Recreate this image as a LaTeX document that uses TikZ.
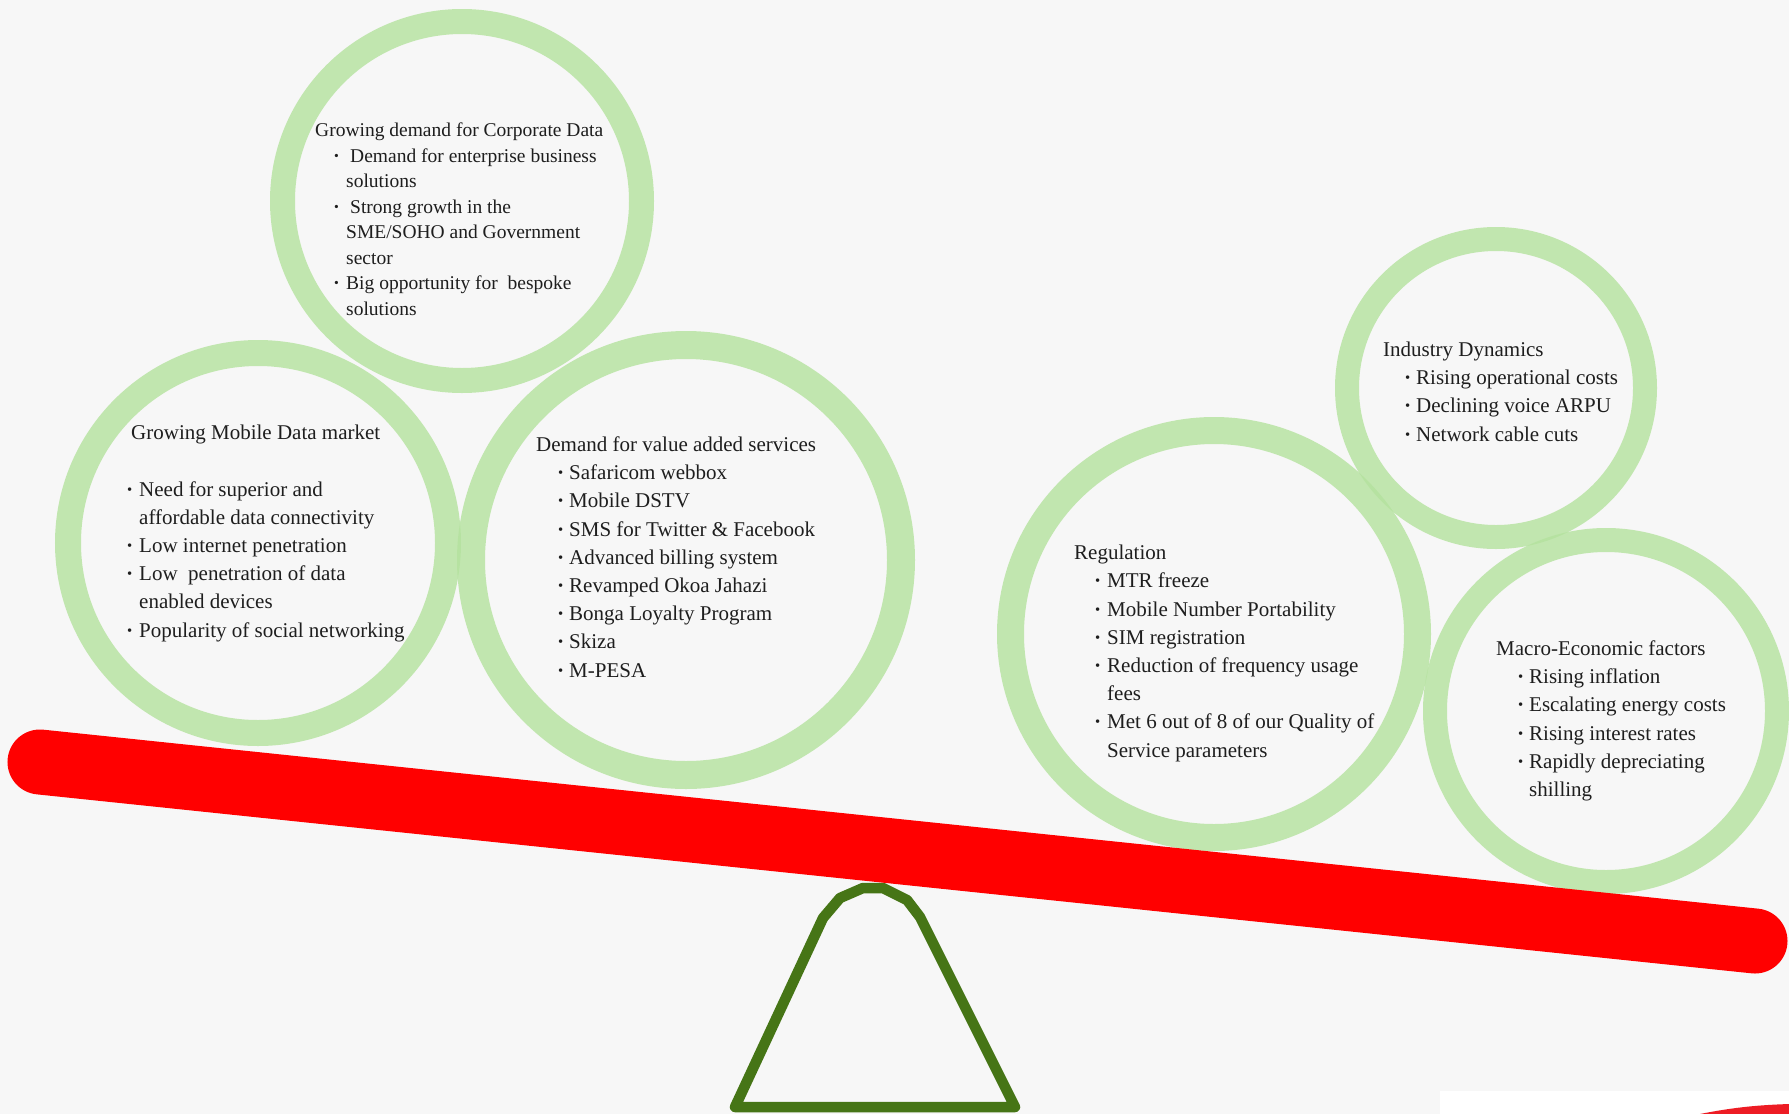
\documentclass[tikz,border=0pt]{standalone}
\usepackage{fontspec}
\setmainfont{Liberation Serif}
\usepackage{graphicx}
\definecolor{bg}{RGB}{247,247,247}
\definecolor{ring}{RGB}{180,226,158}
\definecolor{fulc}{RGB}{70,117,22}
\definecolor{beamred}{RGB}{255,0,0}
\definecolor{txtc}{RGB}{30,30,30}
\definecolor{redtwo}{RGB}{237,28,36}
\newcommand\bul{\raisebox{0.2ex}{\scalebox{0.7}{•}}}
\newcommand\bitem[3]{\hspace*{#1pt}\makebox[#2pt][l]{\bul}#3}
\newcommand\cont[2]{\hspace*{#1pt}#2}
\begin{document}
\begin{tikzpicture}[x=1pt,y=-1pt,
  ringst/.style={draw=ring, draw opacity=0.8},
  txt/.style={anchor=base west, align=left, inner sep=0pt, text=txtc, font=\fontsize{21}{28.2}\selectfont},
  txts/.style={txt, font=\fontsize{19.5}{25.5}\selectfont}]
\useasboundingbox (0,0) rectangle (1789,1114);
\fill[bg] (0,0) rectangle (1789,1114);
% rings
\draw[ringst, line width=25pt] (462,201) circle[radius=179.5pt];
\draw[ringst, line width=26pt] (258,543) circle[radius=190pt];
\draw[ringst, line width=28pt] (686,560) circle[radius=215pt];
\draw[ringst, line width=27pt] (1214,634) circle[radius=203.5pt];
\draw[ringst, line width=24pt] (1496,388) circle[radius=149pt];
\draw[ringst, line width=24pt] (1606,711) circle[radius=171pt];
% fulcrum
\draw[fulc, line width=10.5pt, line join=round, line cap=round]
  (735,1107) -- (823,918) -- (840,898) -- (863,888) -- (883,888) -- (907,900) -- (920,917) -- (1015,1107) -- cycle;
% beam
\coordinate (bl) at (40,762);
\coordinate (br) at (1755,941);
\draw[beamred, line width=65pt, line cap=round] (bl) -- (br);
% corner
\fill[white] (1440,1091) rectangle (1789,1114);
\fill[redtwo] (1700,1114) .. controls (1735,1107) and (1760,1105) .. (1789,1104) -- (1789,1114) -- cycle;
% texts (anchored at the baseline of the last line)
\node[txts] (t1) at (315,315) {Growing demand for Corporate Data\\
\bitem{19}{16}{Demand for enterprise business}\\
\cont{31}{solutions}\\
\bitem{19}{16}{Strong growth in the}\\
\cont{31}{SME/SOHO and Government}\\
\cont{31}{sector}\\
\bitem{19}{12}{Big opportunity for\ \ bespoke}\\
\cont{31}{solutions}};
\node[txt] (t2) at (127,637) {\cont{4}{Growing Mobile Data market}\\[28.2pt]
\bitem{0}{12}{Need for superior and}\\
\cont{12}{affordable data connectivity}\\
\bitem{0}{12}{Low internet penetration}\\
\bitem{0}{12}{Low\ \ penetration of data}\\
\cont{12}{enabled devices}\\
\bitem{0}{12}{Popularity of social networking}};
\node[txt] (t3) at (536,677) {Demand for value added services\\
\bitem{22}{11}{Safaricom webbox}\\
\bitem{22}{11}{Mobile DSTV}\\
\bitem{22}{11}{SMS for Twitter \& Facebook}\\
\bitem{22}{11}{Advanced billing system}\\
\bitem{22}{11}{Revamped Okoa Jahazi}\\
\bitem{22}{11}{Bonga Loyalty Program}\\
\bitem{22}{11}{Skiza}\\
\bitem{22}{11}{M-PESA}};
\node[txt] (t4) at (1074,757) {Regulation\\
\bitem{21}{12}{MTR freeze}\\
\bitem{21}{12}{Mobile Number Portability}\\
\bitem{21}{12}{SIM registration}\\
\bitem{21}{12}{Reduction of frequency usage}\\
\cont{33}{fees}\\
\bitem{21}{12}{Met 6 out of 8 of our Quality of}\\
\cont{33}{Service parameters}};
\node[txt] (t5) at (1383,441) {Industry Dynamics\\
\bitem{22}{11}{Rising operational costs}\\
\bitem{22}{11}{Declining voice ARPU}\\
\bitem{22}{11}{Network cable cuts}};
\node[txt] (t6) at (1496,796.5) {Macro-Economic factors\\
\bitem{22}{11}{Rising inflation}\\
\bitem{22}{11}{Escalating energy costs}\\
\bitem{22}{11}{Rising interest rates}\\
\bitem{22}{11}{Rapidly depreciating}\\
\cont{33}{shilling}};
\end{tikzpicture}
\end{document}
